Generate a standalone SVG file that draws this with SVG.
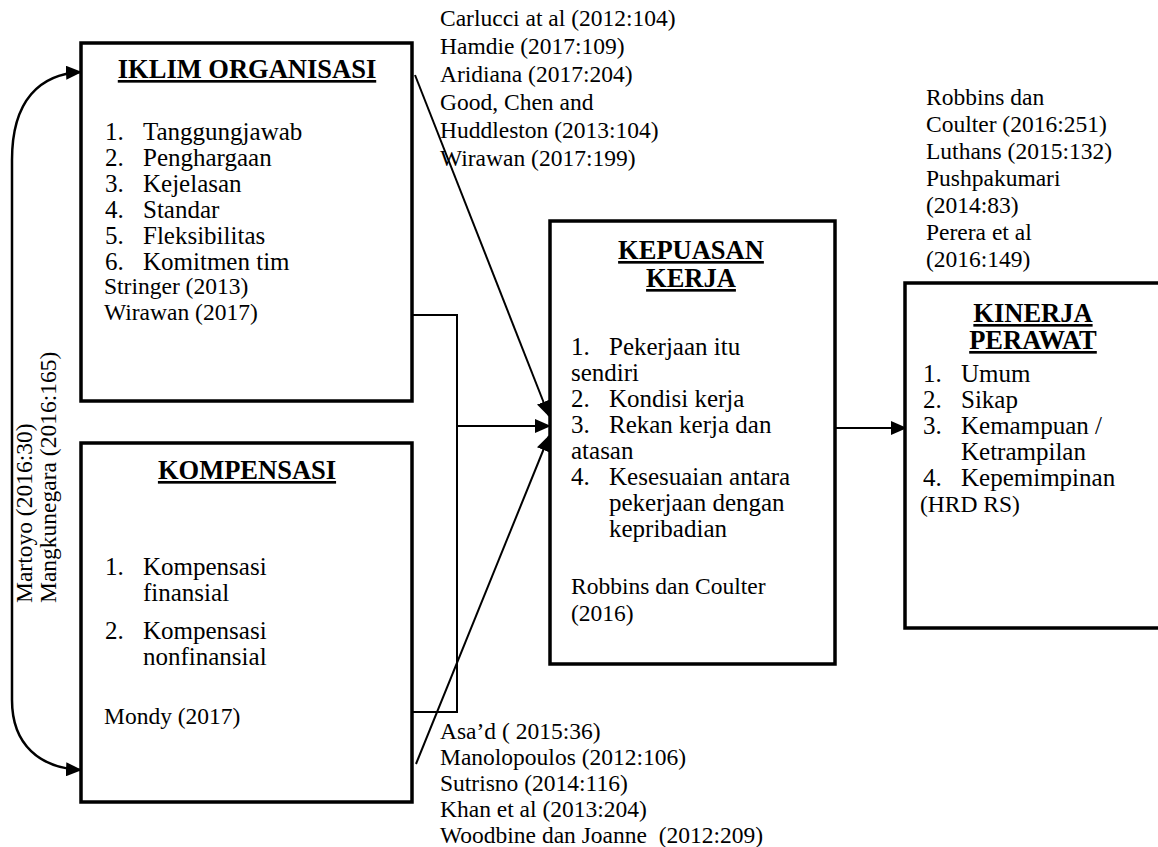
<svg xmlns="http://www.w3.org/2000/svg" width="1158" height="847" viewBox="0 0 1158 847">
<style>
.box{fill:#fff;stroke:#000;stroke-width:3.5}
.t{font-family:"Liberation Serif","Times New Roman",serif;font-size:25px;fill:#000}
.c{font-family:"Liberation Serif","Times New Roman",serif;font-size:23.5px;fill:#000}
.h{font-family:"Liberation Serif","Times New Roman",serif;font-size:26.5px;font-weight:bold;fill:#000;text-decoration:underline;text-anchor:middle}
.ln{fill:none;stroke:#000;stroke-width:2}
</style>
<defs>
<marker id="ah" markerUnits="userSpaceOnUse" markerWidth="16" markerHeight="14" refX="15" refY="7" orient="auto-start-reverse">
<path d="M0,0 L16,7 L0,14 Z" fill="#000"/>
</marker>
</defs>
<rect width="1158" height="847" fill="#fff"/>
<g id="connectors">
<path class="ln" style="stroke-width:2.5" d="M81,72 C40,74 12,100 12,160 L12,700 C12,745 40,768 81,770" marker-start="url(#ah)" marker-end="url(#ah)"/>
<polyline class="ln" points="412,315 457,315 457,712 412,712"/>
<line class="ln" x1="457" y1="426" x2="550" y2="426" marker-end="url(#ah)"/>
<line class="ln" x1="415" y1="75" x2="549" y2="416" marker-end="url(#ah)"/>
<line class="ln" x1="416" y1="764" x2="549" y2="436" marker-end="url(#ah)"/>
<line class="ln" x1="835" y1="428" x2="906" y2="428" marker-end="url(#ah)"/>
</g>
<g id="iklim">
<rect class="box" x="81" y="43" width="331" height="358"/>
<text class="h" x="247" y="78">IKLIM ORGANISASI</text>
<text class="t" x="105" y="140">1.</text><text class="t" x="143" y="140">Tanggungjawab</text>
<text class="t" x="105" y="166">2.</text><text class="t" x="143" y="166">Penghargaan</text>
<text class="t" x="105" y="192">3.</text><text class="t" x="143" y="192">Kejelasan</text>
<text class="t" x="105" y="218">4.</text><text class="t" x="143" y="218">Standar</text>
<text class="t" x="105" y="244">5.</text><text class="t" x="143" y="244">Fleksibilitas</text>
<text class="t" x="105" y="270">6.</text><text class="t" x="143" y="270">Komitmen tim</text>
<text class="c" x="104" y="294">Stringer (2013)</text>
<text class="c" x="104" y="320">Wirawan (2017)</text>
</g>
<g id="kompensasi">
<rect class="box" x="81" y="443" width="331" height="359"/>
<text class="h" x="247" y="479">KOMPENSASI</text>
<text class="t" x="105" y="575">1.</text><text class="t" x="143" y="575">Kompensasi</text>
<text class="t" x="143" y="601">finansial</text>
<text class="t" x="105" y="639">2.</text><text class="t" x="143" y="639">Kompensasi</text>
<text class="t" x="143" y="665">nonfinansial</text>
<text class="c" x="104" y="724">Mondy (2017)</text>
</g>
<g id="kepuasan">
<rect class="box" x="550" y="221" width="285" height="443"/>
<text class="h" x="691" y="259">KEPUASAN</text>
<text class="h" x="691" y="287">KERJA</text>
<text class="t" x="571" y="355">1.</text><text class="t" x="609" y="355">Pekerjaan itu</text>
<text class="t" x="571" y="381">sendiri</text>
<text class="t" x="571" y="407">2.</text><text class="t" x="609" y="407">Kondisi kerja</text>
<text class="t" x="571" y="433">3.</text><text class="t" x="609" y="433">Rekan kerja dan</text>
<text class="t" x="571" y="459">atasan</text>
<text class="t" x="571" y="485">4.</text><text class="t" x="609" y="485">Kesesuaian antara</text>
<text class="t" x="609" y="511">pekerjaan dengan</text>
<text class="t" x="609" y="537">kepribadian</text>
<text class="c" x="571" y="594">Robbins dan Coulter</text>
<text class="c" x="571" y="621">(2016)</text>
</g>
<g id="kinerja">
<rect class="box" x="905" y="283" width="262" height="345"/>
<text class="h" x="1033" y="322">KINERJA</text>
<text class="h" x="1033" y="349">PERAWAT</text>
<text class="t" x="923" y="382">1.</text><text class="t" x="961" y="382">Umum</text>
<text class="t" x="923" y="408">2.</text><text class="t" x="961" y="408">Sikap</text>
<text class="t" x="923" y="434">3.</text><text class="t" x="961" y="434">Kemampuan /</text>
<text class="t" x="961" y="460">Ketrampilan</text>
<text class="t" x="923" y="486">4.</text><text class="t" x="961" y="486">Kepemimpinan</text>
<text class="c" x="920" y="512">(HRD RS)</text>
</g>
<g id="refs-top">
<text class="c" x="440" y="26">Carlucci at al (2012:104)</text>
<text class="c" x="440" y="54">Hamdie (2017:109)</text>
<text class="c" x="440" y="82">Aridiana (2017:204)</text>
<text class="c" x="440" y="110">Good, Chen and</text>
<text class="c" x="440" y="138">Huddleston (2013:104)</text>
<text class="c" x="440" y="166">Wirawan (2017:199)</text>
</g>
<g id="refs-right">
<text class="c" x="926" y="105">Robbins dan</text>
<text class="c" x="926" y="132">Coulter (2016:251)</text>
<text class="c" x="926" y="159">Luthans (2015:132)</text>
<text class="c" x="926" y="186">Pushpakumari</text>
<text class="c" x="926" y="213">(2014:83)</text>
<text class="c" x="926" y="240">Perera et al</text>
<text class="c" x="926" y="267">(2016:149)</text>
</g>
<g id="refs-bottom">
<text class="c" x="440" y="739">Asa’d ( 2015:36)</text>
<text class="c" x="440" y="765">Manolopoulos (2012:106)</text>
<text class="c" x="440" y="791">Sutrisno (2014:116)</text>
<text class="c" x="440" y="817">Khan et al (2013:204)</text>
<text class="c" x="440" y="843">Woodbine dan Joanne&#160; (2012:209)</text>
</g>
<g id="refs-left">
<text class="c" transform="translate(32,603) rotate(-90)">Martoyo (2016:30)</text>
<text class="c" transform="translate(56,603) rotate(-90)">Mangkunegara (2016:165)</text>
</g>
</svg>
